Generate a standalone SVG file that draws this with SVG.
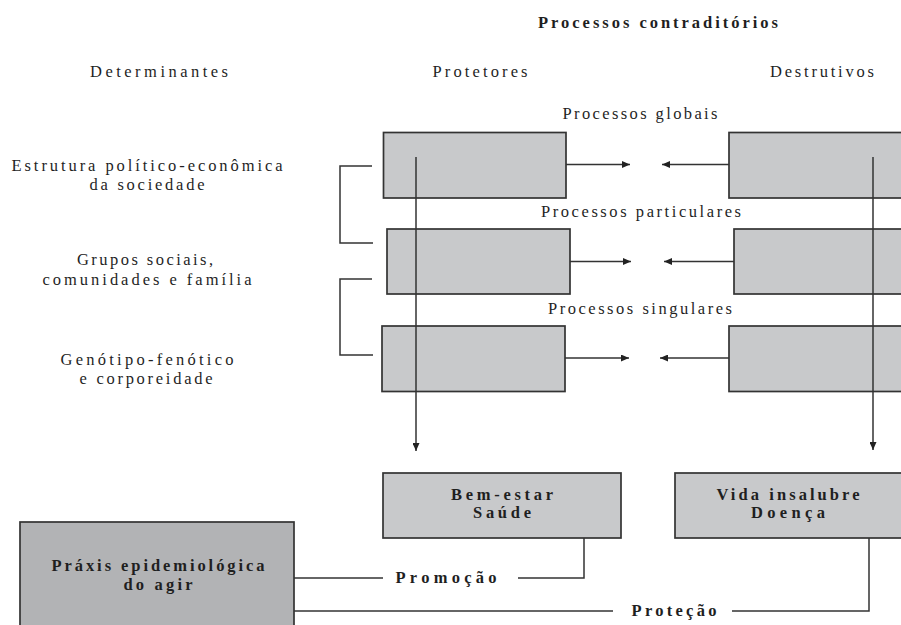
<svg xmlns="http://www.w3.org/2000/svg" width="901" height="625" viewBox="0 0 901 625">
<style>
.bg{fill:#ffffff}
.box{fill:#c8c9cb;stroke:#333333;stroke-width:1.7}
.dark{fill:#b2b3b5;stroke:#333333;stroke-width:1.7}
.ln{fill:none;stroke:#333333;stroke-width:1.5}
.t{font-family:"Liberation Serif","Times New Roman",serif;font-size:16.5px;fill:#1f1f1f;text-anchor:middle}
.b{font-weight:bold}
</style>
<defs>
<marker id="ah" viewBox="0 0 8 7" refX="8" refY="3.5" markerWidth="8" markerHeight="7" markerUnits="userSpaceOnUse" orient="auto">
<path d="M0,0 L8,3.5 L0,7 z" fill="#222222"/>
</marker>
</defs>
<rect class="bg" x="0" y="0" width="901" height="625"/>

<g id="headers">
<text class="t b" x="658" y="28" textLength="240" lengthAdjust="spacing">Processos contraditórios</text>
<text class="t" x="159" y="77" textLength="138" lengthAdjust="spacing">Determinantes</text>
<text class="t" x="480" y="77" textLength="95" lengthAdjust="spacing">Protetores</text>
<text class="t" x="822" y="77" textLength="104" lengthAdjust="spacing">Destrutivos</text>
<text class="t" x="640" y="119" textLength="155" lengthAdjust="spacing">Processos globais</text>
<text class="t" x="641" y="217" textLength="200" lengthAdjust="spacing">Processos particulares</text>
<text class="t" x="640" y="314" textLength="184" lengthAdjust="spacing">Processos singulares</text>
</g>

<g id="determinantes">
<text class="t" x="147" y="171" textLength="271" lengthAdjust="spacing">Estrutura político-econômica</text>
<text class="t" x="147" y="190" textLength="115" lengthAdjust="spacing">da sociedade</text>
<text class="t" x="145" y="265" textLength="136" lengthAdjust="spacing">Grupos sociais,</text>
<text class="t" x="147" y="285" textLength="209" lengthAdjust="spacing">comunidades e família</text>
<text class="t" x="147" y="365" textLength="173" lengthAdjust="spacing">Genótipo-fenótico</text>
<text class="t" x="146" y="384" textLength="133" lengthAdjust="spacing">e corporeidade</text>
</g>

<g id="prot-global"><rect class="box" x="383.5" y="132.5" width="182.5" height="65.5"/></g>
<g id="prot-particular"><rect class="box" x="387" y="229" width="183" height="65"/></g>
<g id="prot-singular"><rect class="box" x="382" y="326" width="183" height="65.5"/></g>
<g id="dest-global"><rect class="box" x="729" y="132.5" width="185" height="65.5"/></g>
<g id="dest-particular"><rect class="box" x="734" y="229" width="180" height="65"/></g>
<g id="dest-singular"><rect class="box" x="729" y="326" width="185" height="65.5"/></g>

<g id="bem-estar">
<rect class="box" x="383" y="473" width="238" height="65"/>
<text class="t b" x="502" y="500" textLength="102" lengthAdjust="spacing">Bem-estar</text>
<text class="t b" x="502" y="518" textLength="58" lengthAdjust="spacing">Saúde</text>
</g>

<g id="vida-insalubre">
<rect class="box" x="675" y="473" width="232" height="65"/>
<text class="t b" x="788" y="500" textLength="143" lengthAdjust="spacing">Vida insalubre</text>
<text class="t b" x="788" y="518" textLength="74" lengthAdjust="spacing">Doença</text>
</g>

<g id="praxis">
<rect class="dark" x="20" y="522" width="274" height="120"/>
<text class="t b" x="158" y="571" textLength="213" lengthAdjust="spacing">Práxis epidemiológica</text>
<text class="t b" x="158" y="590" textLength="69" lengthAdjust="spacing">do agir</text>
</g>

<g id="connectors">
<path class="ln" d="M372,166 H340 V243 H373"/>
<path class="ln" d="M372,279 H340 V355 H373"/>
<line class="ln" x1="566" y1="164.5" x2="630" y2="164.5" marker-end="url(#ah)"/>
<line class="ln" x1="729" y1="164.5" x2="662" y2="164.5" marker-end="url(#ah)"/>
<line class="ln" x1="570" y1="261.5" x2="631" y2="261.5" marker-end="url(#ah)"/>
<line class="ln" x1="734" y1="261.5" x2="664" y2="261.5" marker-end="url(#ah)"/>
<line class="ln" x1="565" y1="358" x2="629" y2="358" marker-end="url(#ah)"/>
<line class="ln" x1="729" y1="358" x2="660" y2="358" marker-end="url(#ah)"/>
<line class="ln" x1="416" y1="157" x2="416" y2="451" marker-end="url(#ah)"/>
<line class="ln" x1="873" y1="157" x2="873" y2="450" marker-end="url(#ah)"/>
<path class="ln" d="M294,578 H383"/>
<path class="ln" d="M518,578 H584 V538"/>
<path class="ln" d="M294,611 H613"/>
<path class="ln" d="M732,611 H869 V538"/>
<text class="t b" x="446" y="583" textLength="101" lengthAdjust="spacing">Promoção</text>
<text class="t b" x="674" y="616" textLength="85" lengthAdjust="spacing">Proteção</text>
</g>
</svg>
